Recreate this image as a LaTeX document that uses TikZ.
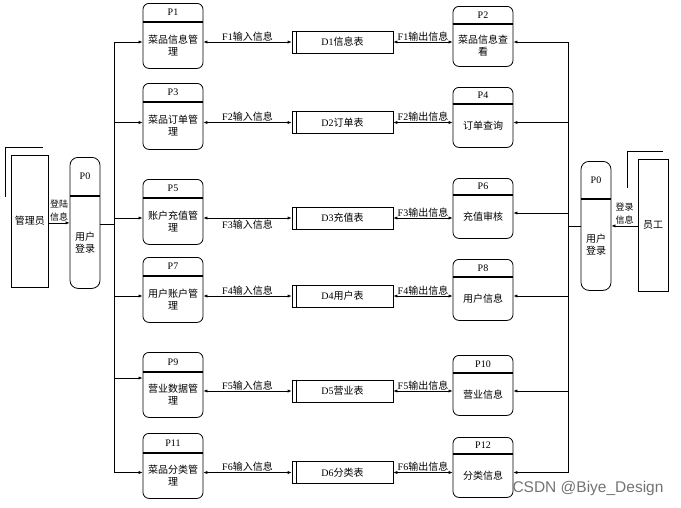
\documentclass[tikz,border=0pt]{standalone}
\usepackage{fontspec}
\setmainfont{Liberation Serif}
\newfontfamily\zhfont{Noto Sans CJK SC}
\newfontfamily\wmfont{Liberation Sans}
\newcommand{\zh}[1]{{\zhfont #1}}
\usepackage{tikz}
\usetikzlibrary{calc}
\usetikzlibrary{arrows.meta}
\tikzset{
  every node/.style={font=\fontsize{10}{12}\selectfont},
  procbox/.style={draw, rounded corners=6pt, minimum width=60pt, line width=0.8pt},
  storebox/.style={draw, minimum width=101pt, minimum height=22pt, line width=0.7pt},
  entity/.style={draw, line width=0.7pt},
  flow/.style={-{Latex[length=4pt,width=3.2pt]}, line width=0.7pt},
  dflow/.style={{Latex[length=4pt,width=3.2pt]}-{Latex[length=4pt,width=3.2pt]}, line width=0.7pt},
  flowlbl/.style={inner sep=0.5pt},
  loginlbl/.style={inner sep=1pt, align=center, font=\fontsize{9}{13.5}\selectfont},
}
% name, position, size, header offset, id, text
\newcommand{\mkproc}[6]{%
  \node[procbox, #3, anchor=north] (#1) at (#2) {};
  \draw[line width=1.1pt] ($(#1.north west)+(0,#4)$) -- ($(#1.north east)+(0,#4)$);
  \node (#1-id) at ($(#1.north)+(0,#4/2)$) {#5};
  \node[align=center] (#1-txt) at ($(#1.center)+(0,#4/2)$) {#6};
}
\newcommand{\mkstore}[3]{%
  \node[storebox] (#1) at (#2) {#3};
  \draw[line width=0.7pt] ($(#1.north west)+(5,0)$) -- ($(#1.south west)+(5,0)$);
}

\begin{document}
\begin{tikzpicture}[x=1pt, y=-1pt]
  \useasboundingbox (0,0) rectangle (681,507);

  % left processes
  \mkproc{p1}{173,3}{minimum height=65pt}{19}{P1}{\zh{菜品信息管}\\\zh{理}}
  \mkproc{p3}{173,83}{minimum height=66pt}{19}{P3}{\zh{菜品订单管}\\\zh{理}}
  \mkproc{p5}{173,179}{minimum height=65pt}{19}{P5}{\zh{账户充值管}\\\zh{理}}
  \mkproc{p7}{173,257}{minimum height=65pt}{19}{P7}{\zh{用户账户管}\\\zh{理}}
  \mkproc{p9}{173,352}{minimum height=65pt}{20}{P9}{\zh{营业数据管}\\\zh{理}}
  \mkproc{p11}{173,433}{minimum height=65pt}{20}{P11}{\zh{菜品分类管}\\\zh{理}}

  % right processes
  \mkproc{p2}{483,6}{minimum height=60pt}{18}{P2}{\zh{菜品信息查}\\\zh{看}}
  \mkproc{p4}{483,87}{minimum height=60pt}{17}{P4}{\zh{订单查询}}
  \mkproc{p6}{483,178}{minimum height=60pt}{17}{P6}{\zh{充值审核}}
  \mkproc{p8}{483,259}{minimum height=61pt}{18}{P8}{\zh{用户信息}}
  \mkproc{p10}{483,355}{minimum height=60pt}{18}{P10}{\zh{营业信息}}
  \mkproc{p12}{483,437}{minimum height=60pt}{17}{P12}{\zh{分类信息}}

  % login processes
  \mkproc{p0l}{85,157}{minimum width=30pt, minimum height=131pt, rounded corners=8pt}{39}{P0}{\zh{用户}\\\zh{登录}}
  \mkproc{p0r}{596,161}{minimum width=30pt, minimum height=129pt, rounded corners=8pt}{38}{P0}{\zh{用户}\\\zh{登录}}

  % data stores
  \mkstore{d1}{342.5,42}{D1\zh{信息表}}
  \mkstore{d2}{342.5,122.5}{D2\zh{订单表}}
  \mkstore{d3}{342.5,218}{D3\zh{充值表}}
  \mkstore{d4}{342.5,296}{D4\zh{用户表}}
  \mkstore{d5}{342.5,391}{D5\zh{营业表}}
  \mkstore{d6}{342.5,472.5}{D6\zh{分类表}}

  % external entities
  \node[entity, minimum width=36pt, minimum height=132pt] (admin) at (30,221) {\zh{管理员}};
  \draw[line width=0.7pt] ($(admin.north west)+(-6,42)$) -- ($(admin.north west)+(-6,-7)$)
    -- ($(admin.north east)+(-6,-7)$);
  \node[entity, minimum width=30pt, minimum height=132pt] (staff) at (653,225) {\zh{员工}};
  \draw[line width=0.7pt] ($(staff.north west)+(-10,29)$) -- ($(staff.north west)+(-10,-7)$)
    -- ($(staff.north east)+(-5,-7)$);

  % login flows
  \draw[flow] (admin.east |- p0l.west) -- node[loginlbl, above] {\zh{登陆}\\\zh{信息}} (p0l.west);
  \draw[flow] (staff.west |- p0r.east) -- node[loginlbl, above] {\zh{登录}\\\zh{信息}} (p0r.east);

  % left bus
  \coordinate (lbus) at (114,224);
  \coordinate (p9in) at (114,378);
  \draw[line width=0.7pt] (p0l.east |- lbus) -- (lbus);
  \draw[line width=0.7pt] (lbus |- d1.west) -- (lbus |- d6.west);
  \draw[flow] (lbus |- d1.west) -- (p1.west |- d1.west);
  \draw[flow] (lbus |- d2.west) -- (p3.west |- d2.west);
  \draw[flow] (lbus |- d3.west) -- (p5.west |- d3.west);
  \draw[flow] (lbus |- d4.west) -- (p7.west |- d4.west);
  \draw[flow] (p9in) -- (p9.west |- p9in);
  \draw[flow] (lbus |- d6.west) -- (p11.west |- d6.west);

  % right bus
  \coordinate (rbus) at (568,226);
  \coordinate (p6in) at (568,213);
  \draw[line width=0.7pt] (p0r.west |- rbus) -- (rbus);
  \draw[line width=0.7pt] (rbus |- d1.east) -- (rbus |- d6.east);
  \draw[flow] (rbus |- d1.east) -- (p2.east |- d1.east);
  \draw[flow] (rbus |- d2.east) -- (p4.east |- d2.east);
  \draw[flow] (p6in) -- (p6.east |- p6in);
  \draw[flow] (rbus |- d4.east) -- (p8.east |- d4.east);
  \draw[flow] (rbus |- d5.east) -- (p10.east |- d5.east);
  \draw[flow] (rbus |- d6.east) -- (p12.east |- d6.east);

  % input flows
  \draw[dflow] (p1.east |- d1.west) -- node[flowlbl, above] {F1\zh{输入信息}} (d1.west);
  \draw[dflow] (p3.east |- d2.west) -- node[flowlbl, above] {F2\zh{输入信息}} (d2.west);
  \draw[dflow] (p5.east |- d3.west) -- node[flowlbl, below, yshift=-1pt] {F3\zh{输入信息}} (d3.west);
  \draw[dflow] (p7.east |- d4.west) -- node[flowlbl, above] {F4\zh{输入信息}} (d4.west);
  \draw[dflow] (p9.east |- d5.west) -- node[flowlbl, above] {F5\zh{输入信息}} (d5.west);
  \draw[dflow] (p11.east |- d6.west) -- node[flowlbl, above] {F6\zh{输入信息}} (d6.west);

  % output flows
  \draw[dflow] (d1.east) -- node[flowlbl, above] {F1\zh{输出信息}} (p2.west |- d1.east);
  \draw[dflow] (d2.east) -- node[flowlbl, above] {F2\zh{输出信息}} (p4.west |- d2.east);
  \draw[dflow] (d3.east) -- node[flowlbl, above] {F3\zh{输出信息}} (p6.west |- d3.east);
  \draw[dflow] (d4.east) -- node[flowlbl, above] {F4\zh{输出信息}} (p8.west |- d4.east);
  \draw[dflow] (d5.east) -- node[flowlbl, above] {F5\zh{输出信息}} (p10.west |- d5.east);
  \draw[dflow] (d6.east) -- node[flowlbl, above] {F6\zh{输出信息}} (p12.west |- d6.east);

  \node[text=black!55, font=\fontsize{15.5}{16}\wmfont] (wm) at (588,488) {CSDN @Biye\_Design};
\end{tikzpicture}
\end{document}
